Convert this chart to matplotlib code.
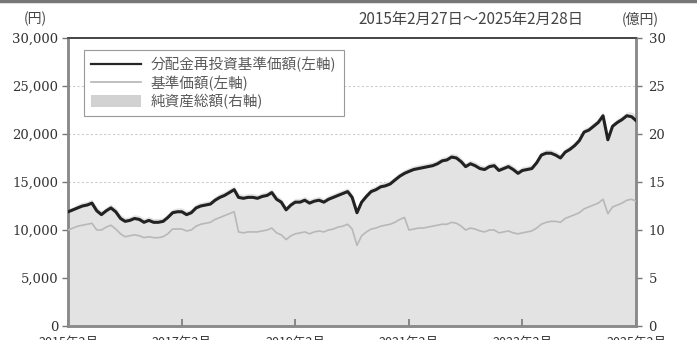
import matplotlib
matplotlib.use("Agg")
import matplotlib.pyplot as plt
from matplotlib.lines import Line2D
from matplotlib.patches import Patch
import pandas as pd

JP = ["Noto Sans CJK JP", "DejaVu Sans"]
NUM = "DejaVu Serif"

# 月末日付（2015年2月～2025年2月）
dates = pd.date_range("2015-02-28", periods=121, freq="ME")

# 分配金再投資基準価額（円）
nav_reinvested = [
    11900, 12100, 12300, 12500, 12600, 12800, 12000, 11600, 12000, 12300, 11900,
    11200, 10900, 11000, 11200, 11100, 10800, 11000, 10800, 10800, 10900, 11300, 11800,
    11900, 11900, 11600, 11800, 12300, 12500, 12600, 12700, 13100, 13400, 13600, 13900,
    14200, 13400, 13300, 13400, 13400, 13300, 13500, 13600, 13900, 13200, 12900, 12100,
    12600, 12900, 12900, 13100, 12800, 13000, 13100, 12900, 13200, 13400, 13600, 13800,
    14000, 13400, 11800, 12900, 13500, 14000, 14200, 14500, 14600, 14800, 15200, 15600,
    15900, 16100, 16300, 16400, 16500, 16600, 16700, 16900, 17200, 17300, 17600, 17500,
    17100, 16600, 16900, 16700, 16400, 16300, 16600, 16700, 16200, 16400, 16600, 16300,
    15900, 16200, 16300, 16400, 17000, 17800, 18000, 18000, 17800, 17500, 18100, 18400,
    18800, 19300, 20200, 20400, 20800, 21200, 21900, 19400, 20800, 21200, 21500, 21900,
    21800, 21400,
]

# 基準価額（円）
nav = [
    10000, 10200, 10400, 10500, 10600, 10700, 10000, 10000, 10300, 10500, 10100,
    9600, 9300, 9400, 9500, 9400, 9200, 9300, 9200, 9200, 9300, 9600, 10100,
    10100, 10100, 9900, 10000, 10400, 10600, 10700, 10800, 11100, 11300, 11500, 11700,
    11900, 9800, 9700, 9800, 9800, 9800, 9900, 10000, 10200, 9700, 9500, 9000,
    9400, 9600, 9700, 9800, 9600, 9800, 9900, 9800, 10000, 10100, 10300, 10400,
    10600, 10100, 8400, 9400, 9800, 10100, 10200, 10400, 10500, 10600, 10800, 11100,
    11300, 10000, 10100, 10200, 10200, 10300, 10400, 10500, 10600, 10600, 10800, 10700,
    10400, 10000, 10200, 10100, 9900, 9800, 10000, 10000, 9700, 9800, 9900, 9700,
    9600, 9700, 9800, 9900, 10200, 10600, 10800, 10900, 10900, 10800, 11200, 11400,
    11600, 11800, 12200, 12400, 12600, 12800, 13200, 11700, 12400, 12600, 12800, 13100,
    13200, 13000,
]

# 純資産総額（億円）
net_assets = [
    12.2, 12.4, 12.7, 12.9, 13.0, 13.2, 12.4, 12.0, 12.4, 12.7, 12.3,
    11.6, 11.3, 11.4, 11.6, 11.5, 11.2, 11.4, 11.2, 11.2, 11.3, 11.7, 12.2,
    12.3, 12.3, 12.0, 12.2, 12.7, 12.9, 13.0, 13.1, 13.5, 13.8, 14.0, 14.3,
    14.6, 13.8, 13.7, 13.8, 13.8, 13.7, 13.9, 14.0, 14.3, 13.6, 13.3, 12.5,
    13.0, 13.3, 13.3, 13.5, 13.2, 13.4, 13.5, 13.3, 13.6, 13.8, 14.0, 14.2,
    14.4, 13.8, 12.2, 13.3, 13.9, 14.4, 14.6, 14.9, 15.0, 15.2, 15.6, 16.0,
    16.3, 16.5, 16.7, 16.8, 16.9, 17.0, 17.1, 17.3, 17.6, 17.7, 18.0, 17.9,
    17.5, 17.0, 17.3, 17.1, 16.8, 16.7, 17.0, 17.1, 16.6, 16.8, 17.0, 16.7,
    16.3, 16.6, 16.7, 16.8, 17.4, 18.2, 18.4, 18.4, 18.2, 17.9, 18.5, 18.8,
    19.2, 19.7, 20.6, 20.8, 21.2, 21.6, 22.3, 19.8, 21.2, 21.6, 21.9, 22.3,
    22.3, 22.0,
]

left_ticks = [0, 5000, 10000, 15000, 20000, 25000, 30000]
right_ticks = [0, 5, 10, 15, 20, 25, 30]
x_ticks = ["2015-02-27", "2017-02-28", "2019-02-28", "2021-02-26", "2023-02-28", "2025-02-28"]
x_labels = ["2015年2月", "2017年2月", "2019年2月", "2021年2月", "2023年2月", "2025年2月"]
legend_labels = ["分配金再投資基準価額(左軸)", "基準価額(左軸)", "純資産総額(右軸)"]

fig = plt.figure(figsize=(6.97, 3.40), dpi=100)
ax = fig.add_axes([68 / 697, 1 - 326 / 340, 568 / 697, 288 / 340])
ax2 = ax.twinx()

# 純資産総額は右軸、塗りつぶしを一番下に
ax2.fill_between(dates, net_assets, 0, color="#e3e3e3", lw=0, zorder=1)
ax2.set_ylim(0, 30)
ax.set_zorder(ax2.get_zorder() + 1)
ax.patch.set_visible(False)

for y in left_ticks[1:-1]:
    ax2.axhline(y / 1000, color="#cccccc", lw=0.8, ls=(0, (2, 2)), zorder=0)

ax.plot(dates, nav, color="#b8b8b8", lw=1.2, zorder=3)
ax.plot(dates, nav_reinvested, color="#222222", lw=2.2, zorder=4)

ax.set_ylim(0, 30000)
ax.set_xlim(pd.Timestamp("2015-02-27"), pd.Timestamp("2025-02-28"))
ax.set_yticks(left_ticks)
ax.set_yticklabels([f"{v:,}" for v in left_ticks], fontfamily=NUM, fontsize=9.5, color="#333333")
ax2.set_yticks(right_ticks)
ax2.set_yticklabels([str(v) for v in right_ticks], fontfamily=NUM, fontsize=9.5, color="#333333")

ax.set_xticks(pd.to_datetime(x_ticks))
ax.set_xticklabels(x_labels, family=JP, fontsize=9, color="#333333")
ax.tick_params(axis="x", direction="in", length=5, width=1.2, color="#777777", pad=7)
ax.tick_params(axis="y", direction="out", length=4, width=1, color="#777777", pad=3)
ax2.tick_params(axis="y", direction="out", length=4, width=1, color="#777777", pad=5)

for a in (ax, ax2):
    for side in ("left", "right", "bottom"):
        a.spines[side].set_color("#8a8a8a")
        a.spines[side].set_linewidth(1.8)
    a.spines["top"].set_color("#444444")
    a.spines["top"].set_linewidth(1.2)

handles = [
    Line2D([], [], color="#262626", lw=1.6),
    Line2D([], [], color="#b4b4b4", lw=1.2),
    Patch(facecolor="#d2d2d2", edgecolor="none"),
]
leg = ax.legend(handles, legend_labels, loc="upper left", bbox_to_anchor=(0.015, 0.985),
                prop={"family": JP, "size": 10.5}, frameon=True, fancybox=False,
                edgecolor="#999999", framealpha=1, handlelength=3.4, handleheight=0.9,
                labelspacing=0.2, borderpad=0.5, handletextpad=0.7)
leg.get_frame().set_linewidth(0.8)
for t in leg.get_texts():
    t.set_color("#5a5a5a")

fig.text(35 / 697, 1 - 19 / 340, "(円)", family=JP, fontsize=10, color="#444444",
         ha="center", va="center")
fig.text(583 / 697, 1 - 19 / 340, "2015年2月27日～2025年2月28日", family=JP, fontsize=11,
         color="#444444", ha="right", va="center")
fig.text(640 / 697, 1 - 19 / 340, "(億円)", family=JP, fontsize=10, color="#444444",
         ha="center", va="center")

# 上端の帯
fig.add_artist(Line2D([0, 1], [0.996, 0.996], transform=fig.transFigure,
                      color="#777777", lw=2.5))

fig.savefig("out.png", dpi=100)
